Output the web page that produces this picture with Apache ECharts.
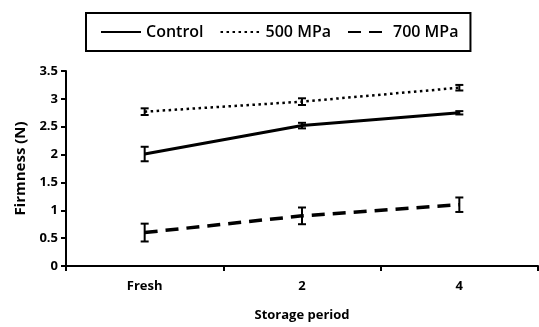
<!DOCTYPE html>
<html>
<head>
<meta charset="utf-8">
<script src="https://cdn.jsdelivr.net/npm/echarts@6/dist/echarts.min.js"></script>
<style>
  html, body { margin: 0; padding: 0; background: #fff; }
  #chart { width: 539px; height: 327px; }
</style>
</head>
<body>
<div id="chart"></div>
<script>
const categories = ['Fresh', '2', '4'];
const controlValues = [2.01, 2.52, 2.75];
const controlErrors = [0.13, 0.05, 0.03];
const mpa500Values = [2.77, 2.95, 3.2];
const mpa500Errors = [0.06, 0.06, 0.05];
const mpa700Values = [0.6, 0.9, 1.1];
const mpa700Errors = [0.16, 0.15, 0.13];

const font = '"Open Sans", sans-serif';

const errorData = (vals, errs) => vals.map((v, i) => [i, v - errs[i], v + errs[i]]);

const renderError = (params, api) => {
  const x = api.value(0);
  const lo = api.coord([x, api.value(1)]);
  const hi = api.coord([x, api.value(2)]);
  const cap = 4;
  const style = { stroke: '#000', lineWidth: 2 };
  return {
    type: 'group',
    children: [
      { type: 'line', shape: { x1: lo[0], y1: lo[1], x2: hi[0], y2: hi[1] }, style },
      { type: 'line', shape: { x1: lo[0] - cap, y1: lo[1], x2: lo[0] + cap, y2: lo[1] }, style },
      { type: 'line', shape: { x1: hi[0] - cap, y1: hi[1], x2: hi[0] + cap, y2: hi[1] }, style },
    ],
  };
};

const chart = echarts.init(document.getElementById('chart'));

const option = {
  animation: false,
  grid: { left: 66, right: 1, top: 71, bottom: 59 },
  legend: {
    left: 86,
    top: 13,
    padding: [11, 12, 11, 14],
    borderColor: '#000',
    borderWidth: 2,
    itemWidth: 40,
    itemHeight: 14,
    itemGap: 16,
    itemStyle: { opacity: 0 },
    data: ['Control', '500 MPa', '700 MPa'],
    textStyle: { fontFamily: font, fontSize: 16, fontWeight: 600, color: '#000' },
  },
  xAxis: {
    type: 'category',
    data: categories,
    name: 'Storage period',
    nameLocation: 'middle',
    nameGap: 43,
    nameTextStyle: { fontFamily: font, fontSize: 13, fontWeight: 'bold', color: '#000' },
    axisLine: { lineStyle: { color: '#000', width: 2 } },
    axisTick: { show: true, length: 5, lineStyle: { color: '#000', width: 2 } },
    axisLabel: { fontFamily: font, fontSize: 13, fontWeight: 'bold', color: '#000', margin: 14 },
    splitLine: { show: false },
  },
  yAxis: {
    type: 'value',
    min: 0,
    max: 3.5,
    interval: 0.5,
    name: 'Firmness (N)',
    nameLocation: 'middle',
    nameGap: 37,
    nameTextStyle: { fontFamily: font, fontSize: 15, fontWeight: 'bold', color: '#000' },
    axisLine: { show: true, lineStyle: { color: '#000', width: 2 } },
    axisTick: { show: true, length: 5, lineStyle: { color: '#000', width: 2 } },
    axisLabel: { fontFamily: font, fontSize: 13, fontWeight: 'bold', color: '#000', margin: 8 },
    splitLine: { show: false },
  },
  series: [
    {
      name: 'Control',
      type: 'line',
      data: controlValues,
      showSymbol: false,
      symbol: 'none',
      itemStyle: { color: '#000' },
      lineStyle: { color: '#000', width: 3, type: 'solid' },
    },
    {
      name: '500 MPa',
      type: 'line',
      data: mpa500Values,
      showSymbol: false,
      symbol: 'none',
      itemStyle: { color: '#000' },
      lineStyle: { color: '#000', width: 2.5, type: [2.5, 3.5] },
    },
    {
      name: '700 MPa',
      type: 'line',
      data: mpa700Values,
      showSymbol: false,
      symbol: 'none',
      itemStyle: { color: '#000' },
      lineStyle: { color: '#000', width: 3.5, type: [13, 8] },
    },
    { type: 'custom', renderItem: renderError, data: errorData(controlValues, controlErrors), z: 3 },
    { type: 'custom', renderItem: renderError, data: errorData(mpa500Values, mpa500Errors), z: 3 },
    { type: 'custom', renderItem: renderError, data: errorData(mpa700Values, mpa700Errors), z: 3 },
  ],
};

chart.setOption(option);
</script>
</body>
</html>
